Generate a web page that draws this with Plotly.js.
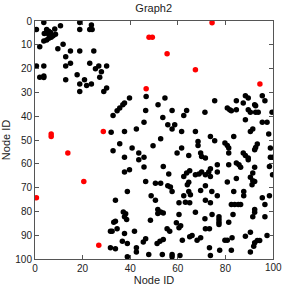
<!DOCTYPE html>
<html><head><meta charset="utf-8">
<script src="https://cdn.plot.ly/plotly-3.0.1.min.js"></script>
<style>html,body{margin:0;padding:0;background:#fff}#g{width:282px;height:286px}</style>
</head><body><div id="g"></div>
<script>
const blackX = [3.7,18.8,23.7,0.6,4.9,5.8,8.3,3.9,5.4,6.5,3.7,4.9,5.8,6.8,7.6,8.6,10.7,18.8,23.0,24.0,2.0,9.6,11.8,14.9,18.8,24.7,12.9,14.9,12.9,0.6,3.7,23.0,26.8,30.1,25.4,27.9,27.2,2.0,3.7,3.7,12.9,17.7,20.8,18.8,21.7,23.7,18.8,28.9,30.1,
46.7,54.6,39.7,37.6,36.9,51.7,75.5,84.6,87.5,88.4,89.6,92.3,95.5,96.6,
34.5,35.6,32.8,46.5,57.6,63.7,62.5,53.7,45.8,55.8,58.7,42.6,37.6,32.0,57.6,61.6,67.4,52.8,35.6,49.6,40.8,68.5,68.5,61.6,32.8,43.6,45.8,43.6,37.6,59.7,64.6,53.9,56.2,39.7,37.6,45.8,62.5,63.7,65.0,67.4,46.5,50.6,52.8,
71.4,80.8,81.8,82.5,84.6,89.6,90.5,92.7,93.8,92.7,99.6,88.4,95.5,97.5,90.5,91.5,98.2,73.7,75.5,83.5,79.8,80.8,81.4,93.4,92.7,92.3,98.9,69.6,70.0,71.6,81.4,87.5,88.4,89.6,98.9,99.9,89.6,76.6,81.4,84.6,85.7,86.4,92.3,98.5,73.7,73.0,73.7,70.0,68.9,71.6,76.6,84.6,80.8,91.5,90.5,91.5,99.8,
55.8,56.9,64.0,64.6,57.6,64.6,65.3,33.8,38.8,48.8,50.6,62.5,60.5,63.2,65.0,51.6,52.8,53.9,51.6,37.1,38.1,37.6,38.5,33.1,48.5,60.5,59.4,61.2,60.5,55.5,56.6,34.5,32.4,41.8,37.6,46.5,45.5,52.5,53.9,51.3,61.9,65.0,66.0,36.7,38.8,33.8,42.6,42.6,47.8,53.5,57.6,57.6,38.8,60.9,
33.8,31.7,31.7,
71.6,69.6,76.6,74.3,83.5,87.7,87.7,91.2,92.3,71.6,73.7,82.5,83.9,85.4,86.4,95.5,98.5,96.6,83.2,92.3,92.3,91.5,96.6,67.4,71.4,74.4,77.3,77.3,77.3,77.3,81.4,71.6,73.3,69.6,68.1,79.8,80.8,82.8,73.3,77.6,82.5,73.7,88.4,90.5,92.3,93.4,94.4,97.5,91.9,90.5];
const blackY = [0.6,0.6,1.7,3.6,3.6,4.3,3.4,5.2,5.2,4.8,8.4,8.0,7.3,6.8,6.2,5.6,2.0,3.6,3.6,3.6,10.8,11.7,9.8,12.6,12.6,12.6,15.0,17.7,18.9,18.9,18.9,17.7,18.9,18.9,20.1,21.3,23.6,23.6,23.1,23.7,24.7,22.6,24.7,26.5,27.1,26.5,29.6,29.6,28.2,
31.7,32.4,32.4,34.5,35.2,35.2,33.5,33.5,34.5,31.4,32.4,35.2,31.4,33.5,
37.7,36.6,39.7,37.6,37.6,37.6,39.7,40.5,42.5,43.6,43.6,45.4,46.4,46.7,45.4,46.4,46.4,49.5,51.6,52.4,53.4,50.6,52.3,53.4,54.5,55.5,57.3,58.3,57.3,55.5,56.5,61.1,64.3,62.5,63.4,61.3,65.3,63.9,62.9,64.6,67.4,68.2,68.2,
38.3,36.6,37.3,37.7,37.3,37.3,38.3,38.3,38.3,35.6,38.3,41.5,42.5,42.5,46.4,45.4,47.5,48.5,50.3,48.5,51.3,52.3,53.4,51.7,53.1,54.1,53.4,55.5,56.9,57.6,55.5,55.5,56.5,57.6,57.3,57.3,58.3,60.4,60.4,59.7,60.4,61.5,61.5,61.1,62.1,63.4,65.3,63.4,64.3,64.6,63.4,66.2,67.6,63.9,65.7,67.1,64.6,
69.2,69.7,68.8,67.8,71.6,71.6,73.0,75.3,71.6,73.4,75.3,73.4,76.4,76.2,76.4,79.2,80.2,80.7,80.9,80.2,81.0,82.3,83.4,84.6,83.7,81.3,84.8,86.0,86.9,87.3,88.3,87.3,88.3,88.3,89.3,91.5,92.9,92.5,91.8,93.5,92.1,90.7,90.1,92.5,93.5,95.7,95.3,97.1,98.1,98.1,98.1,99.1,99.1,98.5,
84.1,88.3,95.3,
69.2,71.2,73.4,71.6,71.6,71.6,73.4,68.8,67.4,75.3,76.4,77.1,77.1,77.1,77.1,74.3,73.4,77.1,81.3,79.2,80.4,82.3,82.3,80.4,83.1,81.3,82.3,83.4,84.6,85.5,84.6,87.3,87.3,91.1,92.1,92.1,92.1,91.1,95.3,96.3,96.3,98.5,90.4,88.8,93.2,92.2,92.2,90.1,94.6,97.1];
const redX = [74.4,47.9,49.3,55.5,67.4,46.7,94.5,6.8,6.8,28.7,13.8,20.5,0.6,26.8];
const redY = [0.7,6.8,6.8,13.8,20.5,28.5,26.5,47.5,48.5,46.4,55.5,67.4,74.3,94.2];
const xTicks = [0,20,40,60,80,100];
const yTicks = [0,10,20,30,40,50,60,70,80,90,100];

const FONT = 'Liberation Sans, Arial, sans-serif';
const ax = {
  showline:true, linecolor:'#555', linewidth:1, mirror:'ticks',
  ticks:'inside', ticklen:4, tickcolor:'#555', showgrid:false, zeroline:false,
  ticklabeloverflow:'allow',
  tickfont:{family:FONT, size:10, color:'#222'}
};
// the last x tick label sits past the plot edge; plotly hides it, so it is drawn as an annotation
const lastX = xTicks[xTicks.length-1];
Plotly.newPlot('g', [
  {x:blackX, y:blackY, mode:'markers', type:'scatter', marker:{color:'#000', size:5.5}, cliponaxis:true},
  {x:redX, y:redY, mode:'markers', type:'scatter', marker:{color:'#ff0000', size:5.5}, cliponaxis:true}
], {
  width:282, height:286, showlegend:false,
  margin:{l:35, r:9, t:21, b:27},
  paper_bgcolor:'#fff', plot_bgcolor:'#fff',
  title:{text:'Graph2', x:0.545, xanchor:'center', y:0.985, yanchor:'top',
         font:{family:FONT, size:11, color:'#222'}},
  xaxis:Object.assign({}, ax, {range:[0,100], tickmode:'array', tickvals:xTicks,
         ticktext:xTicks.map((v,i)=> i===xTicks.length-1 ? '' : String(v)),
         title:{text:'Node ID', standoff:0, font:{family:FONT, size:11, color:'#222'}}}),
  yaxis:Object.assign({}, ax, {range:[100,0], tickmode:'array', tickvals:yTicks, ticktext:yTicks.map(String),
         title:{text:'Node ID', standoff:2, font:{family:FONT, size:11, color:'#222'}}}),
  annotations:[{x:lastX, xref:'x', y:0, yref:'paper', yanchor:'top', xanchor:'center', yshift:-2,
         text:String(lastX), showarrow:false, borderpad:0, font:{family:FONT, size:10, color:'#222'}}]
}, {displayModeBar:false, staticPlot:true});
</script></body></html>
